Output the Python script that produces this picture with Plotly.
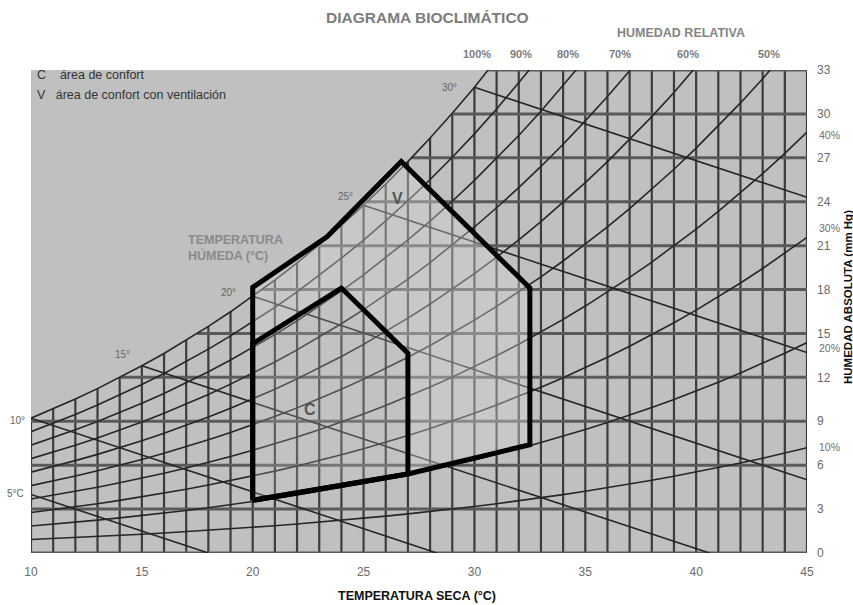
import plotly.graph_objects as go

# Saturation vapour pressure (mm Hg) for each dry-bulb temperature, 10..45 °C
temps = list(range(10, 46))
sat_mmhg = [9.21, 9.84, 10.52, 11.23, 11.99, 12.79, 13.63, 14.53, 15.48, 16.48,
            17.54, 18.65, 19.83, 21.07, 22.38, 23.76, 25.21, 26.74, 28.35, 30.04,
            31.82, 33.70, 35.66, 37.73, 39.90, 42.18, 44.56, 47.07, 49.69, 52.44,
            55.32, 58.34, 61.50, 64.80, 68.26, 71.88]

rh_levels = [10, 20, 30, 40, 50, 60, 70, 80, 90, 100]
abs_ticks = [0, 3, 6, 9, 12, 15, 18, 21, 24, 27, 30, 33]
temp_ticks = [10, 15, 20, 25, 30, 35, 40, 45]

# Wet-bulb temperature lines: label, start point, end point (°C, mm Hg)
wb_labels = ["5°C", "10°", "15°", "20°", "25°", "30°"]
wb_start_t = [10, 10, 15, 20, 25, 30]
wb_start_e = [4.0, 9.21, 12.79, 17.54, 23.76, 31.82]
wb_end_t = [18.0, 28.3, 40.6, 45, 45, 45]
wb_end_e = [0, 0, 0, 5.0, 13.7, 24.3]

# Comfort zones (°C, mm Hg)
c_zone_t = [20, 20, 24, 27, 27, 20]
c_zone_e = [3.6, 14.3, 18.1, 13.65, 5.4, 3.6]
v_zone_t = [20, 20, 23.35, 26.7, 32.5, 32.5, 27, 20]
v_zone_e = [3.6, 18.15, 21.6, 26.75, 18.1, 7.4, 5.4, 3.6]

X0, X1, Y0, Y1 = 10, 45, 0, 33
L, R, T, B = 31, 46, 70, 52
W, H = 853, 605
PW, PH = W - L - R, H - T - B


def paper(xp, yp):
    return (xp - L) / PW, (H - B - yp) / PH


def sat_temp(e):
    # dry-bulb temperature at which the saturation curve reaches e
    for i in range(len(temps) - 1):
        if sat_mmhg[i] <= e <= sat_mmhg[i + 1]:
            f = (e - sat_mmhg[i]) / (sat_mmhg[i + 1] - sat_mmhg[i])
            return temps[i] + f
    return X0 if e < sat_mmhg[0] else X1


fig = go.Figure()

GRID_V = "#3c3c3c"
GRID_H = "#5a5a5a"
CURVE = "#262626"

# vertical grid: one per degree, from 0 up to the saturation curve
for t, es in zip(temps, sat_mmhg):
    fig.add_trace(go.Scatter(x=[t, t], y=[0, es], mode="lines",
                             line=dict(color=GRID_V, width=2.2),
                             hoverinfo="skip", showlegend=False))

# horizontal grid: from the saturation curve to the right edge
for e in abs_ticks:
    fig.add_trace(go.Scatter(x=[sat_temp(e), X1], y=[e, e], mode="lines",
                             line=dict(color=GRID_H, width=3),
                             hoverinfo="skip", showlegend=False))

# relative humidity curves
for rh in rh_levels:
    fig.add_trace(go.Scatter(x=temps, y=[rh / 100 * s for s in sat_mmhg],
                             mode="lines", line=dict(color=CURVE, width=1.6),
                             hoverinfo="skip", showlegend=False))

# wet-bulb lines
for ts, es, te, ee in zip(wb_start_t, wb_start_e, wb_end_t, wb_end_e):
    fig.add_trace(go.Scatter(x=[ts, te], y=[es, ee], mode="lines",
                             line=dict(color=CURVE, width=1.6),
                             hoverinfo="skip", showlegend=False))

# lighter band for ventilated comfort (V minus C)
band_t = [20, 20, 23.35, 26.7, 32.5, 32.5, 27, 27, 24, 20]
band_e = [14.3, 18.15, 21.6, 26.75, 18.1, 7.4, 5.4, 13.65, 18.1, 14.3]
fig.add_trace(go.Scatter(x=band_t, y=band_e, mode="lines", fill="toself",
                         fillcolor="rgba(212,212,212,0.4)",
                         line=dict(width=0), hoverinfo="skip", showlegend=False))
fig.add_trace(go.Scatter(x=c_zone_t, y=c_zone_e, mode="lines", fill="toself",
                         fillcolor="rgba(200,200,200,0.25)",
                         line=dict(width=0), hoverinfo="skip", showlegend=False))

# zone outlines
fig.add_trace(go.Scatter(x=v_zone_t, y=v_zone_e, mode="lines",
                         line=dict(color="#000000", width=5),
                         hoverinfo="skip", showlegend=False))
fig.add_trace(go.Scatter(x=c_zone_t, y=c_zone_e, mode="lines",
                         line=dict(color="#000000", width=5),
                         hoverinfo="skip", showlegend=False))

FONT = "Liberation Sans, Arial, sans-serif"
ann = []


def label(text, xp, yp, size, color, bold=False, xanchor="center", angle=0):
    x, y = paper(xp, yp)
    ann.append(dict(text=f"<b>{text}</b>" if bold else text, x=x, y=y,
                    xref="paper", yref="paper", showarrow=False,
                    xanchor=xanchor, yanchor="middle", textangle=angle,
                    font=dict(family=FONT, size=size, color=color)))


label("DIAGRAMA BIOCLIMÁTICO", 427, 17, 15.5, "#7c7c7c", bold=True)
label("HUMEDAD RELATIVA", 681, 33, 12.5, "#858585", bold=True)
top_rh_x = [477, 521, 568, 620, 688, 769]
for txt, xp in zip(["100%", "90%", "80%", "70%", "60%", "50%"], top_rh_x):
    label(txt, xp, 54, 11, "#7c7c7c", bold=True)

label("C&nbsp;&nbsp;&nbsp;&nbsp;área de confort", 35, 75, 12.5, "#333333", xanchor="left")
label("V&nbsp;&nbsp;&nbsp;área de confort con ventilación", 35, 95, 12.5, "#333333", xanchor="left")

wb_label_px = [(15, 493), (17, 420), (122, 354), (228, 292), (345, 196), (449, 87)]
for txt, (xp, yp) in zip(wb_labels, wb_label_px):
    label(txt, xp, yp, 10, "#666666")

label("TEMPERATURA", 186, 240, 12.5, "#8a8a8a", bold=True, xanchor="left")
label("HÚMEDA (°C)", 186, 256, 12.5, "#8a8a8a", bold=True, xanchor="left")

label("V", 397, 199, 16, "#555555", bold=True)
label("C", 310, 409, 16, "#555555", bold=True)

for txt, yp in zip(["40%", "30%", "20%", "10%"], [135, 228, 348, 447]):
    label(txt, 830, yp, 10.5, "#6f6f6f")

label("HUMEDAD ABSOLUTA (mm Hg)", 848, 297, 11.5, "#111111", bold=True, angle=-90)
label("TEMPERATURA SECA (°C)", 417, 596, 12.5, "#111111", bold=True)

fig.update_layout(
    width=W, height=H,
    margin=dict(l=L, r=R, t=T, b=B, pad=0),
    paper_bgcolor="#ffffff",
    plot_bgcolor="#c0c0c0",
    showlegend=False,
    annotations=ann,
    xaxis=dict(range=[X0, X1], tickvals=temp_ticks, showgrid=False,
               zeroline=False, showline=False, ticks="",
               tickfont=dict(family=FONT, size=12, color="#6a6a6a"),
               ticklabelstandoff=10, fixedrange=True),
    yaxis=dict(range=[Y0, Y1], tickvals=abs_ticks, side="right", showgrid=False,
               zeroline=False, showline=False, ticks="",
               tickfont=dict(family=FONT, size=12, color="#6a6a6a"),
               ticklabelstandoff=9, fixedrange=True),
)

fig.write_html("out.html")
